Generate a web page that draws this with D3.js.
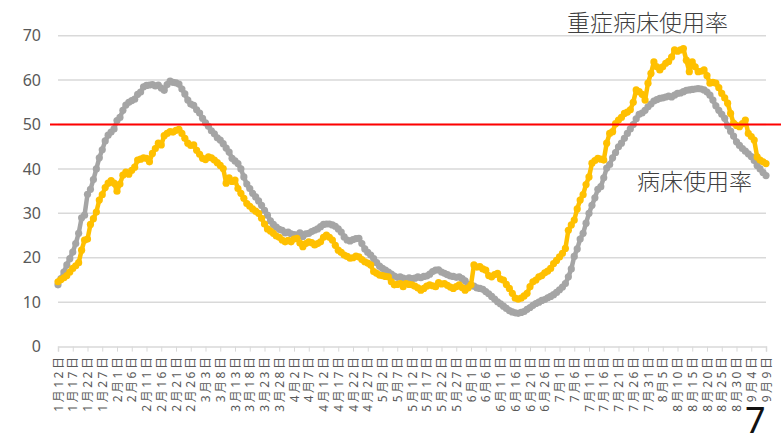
<!DOCTYPE html>
<html>
<head>
<meta charset="utf-8">
<script src="https://cdn.jsdelivr.net/npm/d3@7"></script>
<style>
  html, body { margin: 0; padding: 0; background: #fff; }
  svg { display: block; }
</style>
</head>
<body>
<svg id="chart" width="781" height="443"></svg>
<script>
// ---- data ----
const startDate = new Date(2021, 0, 12);
const endDate = new Date(2021, 8, 9);

const tickLabels = [
  "1月12日","1月17日","1月22日","1月27日","2月1日","2月6日","2月11日","2月16日","2月21日","2月26日",
  "3月3日","3月8日","3月13日","3月18日","3月23日","3月28日","4月2日","4月7日","4月12日","4月17日",
  "4月22日","4月27日","5月2日","5月7日","5月12日","5月17日","5月22日","5月27日","6月1日","6月6日",
  "6月11日","6月16日","6月21日","6月26日","7月1日","7月6日","7月11日","7月16日","7月21日","7月26日",
  "7月31日","8月5日","8月10日","8月15日","8月20日","8月25日","8月30日","9月4日","9月9日"
];

const yTicks = [0, 10, 20, 30, 40, 50, 60, 70];

// 病床使用率 (gray)
const bedRate = [
  13.9, 15.3, 16.8, 18.4, 19.8, 21.3, 23.2, 25.5, 29.0, 29.6,
  34.3, 35.4, 37.6, 40.0, 42.5, 44.3, 46.3, 47.6, 48.3, 49.0,
  50.9, 51.6, 53.2, 54.4, 55.0, 55.4, 55.7, 56.8, 57.3, 58.5,
  58.8, 58.9, 59.0, 58.7, 58.9, 58.2, 57.7, 59.0, 59.8, 59.5,
  59.4, 59.1, 58.0, 56.9, 55.5, 54.6, 54.3, 53.3, 52.6, 51.4,
  50.4, 49.6, 48.6, 47.9, 47.0, 46.5, 45.7, 44.7, 43.8, 42.4,
  41.8, 41.2, 40.0, 38.2, 36.6, 35.6, 34.5, 33.7, 32.8, 31.8,
  30.7, 29.6, 28.3, 27.5, 26.9, 26.4, 26.2, 25.6, 25.8, 25.4,
  25.2, 25.1, 25.6, 24.8, 25.4, 25.5, 25.9, 26.2, 26.5, 27.0,
  27.5, 27.6, 27.6, 27.4, 27.1, 26.5, 25.8, 24.7, 24.0, 23.8,
  24.1, 24.3, 24.4, 23.2, 22.0, 21.2, 20.6, 19.8, 18.9, 18.1,
  17.6, 17.2, 16.8, 16.3, 15.9, 15.6, 15.7, 15.4, 15.2, 15.5,
  15.3, 15.4, 15.7, 15.5, 15.8, 15.9, 16.3, 16.9, 17.2, 17.3,
  16.8, 16.5, 16.2, 15.9, 15.8, 15.6, 15.7, 15.3, 14.8, 14.0,
  13.7, 13.6, 13.2, 13.1, 12.9, 12.4, 11.9, 11.3, 10.7, 10.1,
  9.6, 9.1, 8.6, 8.1, 7.8, 7.6, 7.5, 7.7, 7.9, 8.4,
  8.8, 9.3, 9.7, 10.0, 10.4, 10.6, 11.0, 11.3, 11.7, 12.2,
  12.8, 13.4, 14.2, 15.7, 17.5, 20.3, 22.0, 24.2, 25.5, 27.8,
  30.0, 31.8, 33.5, 35.4, 36.0, 38.0, 40.2, 41.0, 42.5, 43.7,
  45.0, 45.8, 46.9, 48.0, 49.0, 50.0, 51.3, 52.3, 52.6, 53.2,
  54.0, 54.6, 55.3, 55.6, 55.9, 56.0, 56.2, 56.4, 56.2, 56.6,
  57.0, 57.1, 57.4, 57.7, 57.8, 57.9, 58.0, 58.1, 58.0, 57.8,
  57.3, 56.6, 55.5, 54.2, 53.2, 52.3, 51.4, 49.7, 48.5, 47.4,
  46.1, 45.3, 44.6, 44.0, 43.4, 42.8, 41.9, 40.8, 40.0, 39.2,
  38.5
];

// 重症病床使用率 (yellow)
const severeRate = [
  14.6, 15.1, 15.5, 16.0, 16.8, 17.6, 18.2, 18.9, 21.7, 24.0,
  24.2, 27.5, 28.8, 30.3, 33.0, 34.2, 35.8, 36.8, 37.4, 36.8,
  35.0, 36.6, 38.6, 39.3, 38.8, 39.7, 40.4, 42.0, 42.2, 42.5,
  42.4, 41.6, 43.5, 44.6, 45.8, 45.4, 47.5, 48.0, 48.4, 48.3,
  48.7, 48.9, 48.0, 46.9, 45.8, 45.3, 45.4, 44.2, 43.3, 42.4,
  42.1, 42.7, 42.5, 42.0, 41.4, 40.8, 40.1, 36.8, 38.0, 37.2,
  37.5, 35.6, 34.5, 33.4, 32.2, 31.6, 31.0, 30.5, 30.0, 28.9,
  27.6, 26.5, 26.0, 25.5, 24.9, 24.6, 24.0, 23.6, 23.9, 23.6,
  24.2, 24.4, 23.3, 22.5, 23.2, 23.6, 23.4, 22.9, 23.2, 23.6,
  24.6, 25.1, 24.6, 24.0, 22.8, 21.7, 21.2, 20.6, 20.3, 19.9,
  20.0, 20.4, 20.2, 19.6, 19.1, 18.8, 18.4, 16.9, 16.5, 16.1,
  16.0, 15.8, 15.7, 14.6, 13.9, 14.0, 14.2, 13.5, 14.2, 14.0,
  13.9, 13.6, 13.2, 12.7, 13.1, 13.6, 13.9, 13.7, 13.5, 14.4,
  14.1, 14.2, 13.8, 13.4, 13.1, 13.5, 13.9, 13.3, 12.7, 13.2,
  13.9, 18.4, 17.9, 18.0, 17.5, 17.2, 16.0, 15.7, 16.2, 16.5,
  15.2, 15.0, 14.0, 13.1, 12.0, 10.9, 10.7, 10.9, 11.4, 12.0,
  13.5, 14.6, 15.0, 15.7, 16.0, 16.6, 17.0, 17.6, 18.7, 19.4,
  20.2, 21.0, 22.1, 26.2, 27.4, 28.5, 31.0, 33.0, 34.2, 36.5,
  38.2, 41.3, 41.9, 42.4, 42.2, 42.0, 45.8, 48.0, 48.4, 50.2,
  51.0, 51.6, 52.5, 52.8, 53.3, 55.0, 57.8, 57.4, 56.8, 55.5,
  59.3, 61.5, 64.1, 63.0, 62.3, 63.0, 63.8, 64.2, 65.2, 66.8,
  66.5, 66.8, 67.1, 64.5, 61.9, 64.1, 63.0, 61.9, 62.0, 62.3,
  61.0, 59.3, 59.5, 59.3, 58.3, 57.0, 56.0, 54.8, 52.5, 50.3,
  49.8, 49.5, 50.2, 51.0, 48.0, 47.3, 46.5, 42.7, 42.0, 41.6,
  41.2
];

const threshold = 50;
const labelSevere = "重症病床使用率";
const labelBed = "病床使用率";
const pageNumber = "7";

// ---- drawing ----
const svg = d3.select("#chart");
const dates = d3.timeDay.range(startDate, d3.timeDay.offset(endDate, 1));
const tickDates = dates.filter((d, i) => i % 5 === 0);

const x = d3.scaleTime().domain([startDate, endDate]).range([58, 766]);
const y = d3.scaleLinear().domain([0, 70]).range([346.6, 35.7]);

// gridlines
svg.append("g")
  .selectAll("line")
  .data(yTicks.filter(v => v > 0))
  .join("line")
  .attr("x1", 58).attr("x2", 766)
  .attr("y1", d => y(d)).attr("y2", d => y(d))
  .attr("stroke", "#d9d9d9")
  .attr("stroke-width", 1.5);

// y axis labels
svg.append("g")
  .selectAll("text")
  .data(yTicks)
  .join("text")
  .attr("x", 41)
  .attr("y", d => y(d))
  .attr("dy", "0.35em")
  .attr("text-anchor", "end")
  .attr("font-family", "'Noto Sans', 'Open Sans', sans-serif")
  .attr("font-size", 16)
  .attr("fill", "#595959")
  .text(d => d);

// x axis
const xAxis = d3.axisBottom(x)
  .tickValues(tickDates)
  .tickSize(5)
  .tickFormat((d, i) => tickLabels[i]);

const gx = svg.append("g")
  .attr("transform", `translate(0,${y(0)})`)
  .call(xAxis);
gx.select(".domain").attr("stroke", "#d9d9d9").attr("stroke-width", 1.5);
gx.selectAll(".tick line").attr("stroke", "#d9d9d9").attr("stroke-width", 1);
gx.selectAll(".tick text")
  .attr("transform", "rotate(-90)")
  .attr("text-anchor", "end")
  .attr("x", -8)
  .attr("y", 0)
  .attr("dy", "0.35em")
  .attr("font-family", "'Noto Sans', 'Noto Sans CJK JP', sans-serif")
  .attr("font-size", 12)
  .attr("letter-spacing", 2.5)
  .attr("fill", "#595959");

// series
function drawSeries(values, color) {
  const pts = values.map((v, i) => [dates[i], v]);
  const line = d3.line().x(d => x(d[0])).y(d => y(d[1]));
  const g = svg.append("g");
  g.append("path")
    .datum(pts)
    .attr("d", line)
    .attr("fill", "none")
    .attr("stroke", color)
    .attr("stroke-width", 4.5)
    .attr("stroke-linejoin", "round");
  g.selectAll("circle")
    .data(pts)
    .join("circle")
    .attr("cx", d => x(d[0]))
    .attr("cy", d => y(d[1]))
    .attr("r", 3.6)
    .attr("fill", color);
}
drawSeries(bedRate, "#a5a5a5");
drawSeries(severeRate, "#ffc000");

// threshold line
svg.append("line")
  .attr("x1", 50).attr("x2", 781)
  .attr("y1", y(threshold)).attr("y2", y(threshold))
  .attr("stroke", "#ff0000")
  .attr("stroke-width", 2);

// series labels
svg.append("text")
  .attr("x", 567).attr("y", 23)
  .attr("dy", "0.35em")
  .attr("font-family", "'Noto Sans CJK JP', sans-serif")
  .attr("font-weight", 300)
  .attr("font-size", 23)
  .attr("fill", "#404040")
  .text(labelSevere);

svg.append("text")
  .attr("x", 637).attr("y", 182)
  .attr("dy", "0.35em")
  .attr("font-family", "'Noto Sans CJK JP', sans-serif")
  .attr("font-weight", 300)
  .attr("font-size", 23)
  .attr("fill", "#404040")
  .text(labelBed);

// page number
svg.append("text")
  .attr("x", 745).attr("y", 433)
  .attr("font-family", "'Noto Sans', sans-serif")
  .attr("font-size", 36)
  .attr("fill", "#111")
  .text(pageNumber);
</script>
</body>
</html>
